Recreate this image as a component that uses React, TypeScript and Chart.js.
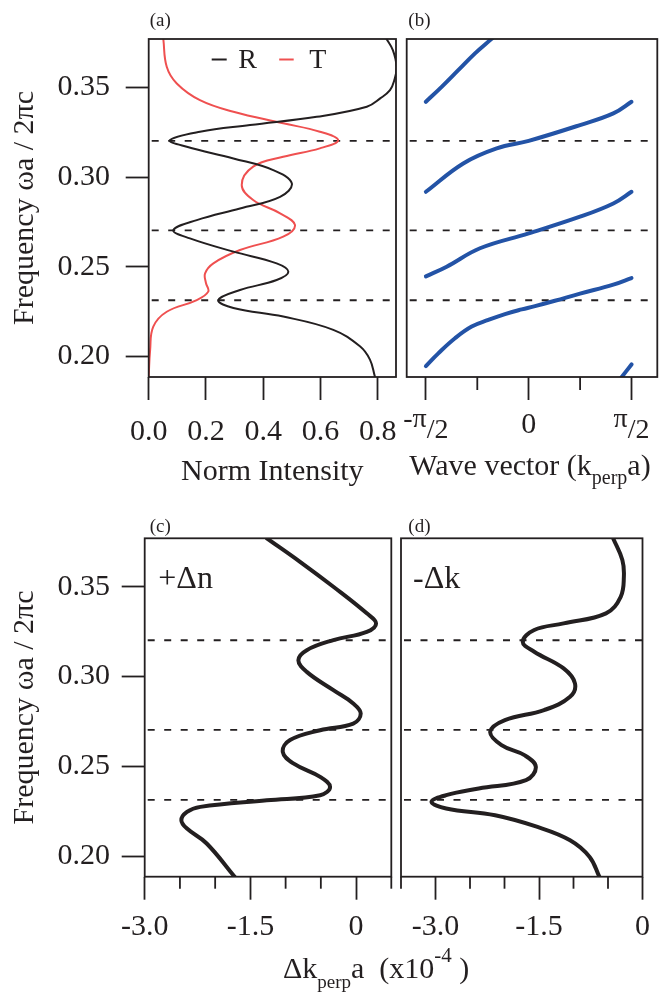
import React, { useEffect, useRef } from "react";
import { Chart, registerables } from "chart.js";

Chart.register(...registerables);

const FONT = "'Liberation Serif', 'Times New Roman', Times, serif";
const INK = "#231f20";
const RED = "#ef5050";
const BLUE = "#2353a6";

// shared frequency axis
const FREQ_MIN = 0.1885;
const FREQ_MAX = 0.377;
const freqTicks = [0.2, 0.25, 0.3, 0.35];
const bandEdges = [0.3202, 0.2703, 0.2313];
const freqTitle = "Frequency ωa / 2πc";

// (a) normalized intensity
const INTENSITY_MIN = 0;
const INTENSITY_MAX = 0.864;
const intensityTicks = [0, 0.2, 0.4, 0.6, 0.8];
const rFreq = [0.1889, 0.1982, 0.2056, 0.2148, 0.2222, 0.227, 0.2314, 0.237, 0.2426, 0.2472, 0.2519, 0.2584, 0.2658, 0.2704, 0.276, 0.2825, 0.289, 0.2965, 0.3039, 0.3104, 0.3169, 0.3206, 0.3253, 0.329, 0.3336, 0.3392, 0.344, 0.3485, 0.354, 0.3615, 0.3708, 0.377];
const rVal = [0.79, 0.773, 0.738, 0.645, 0.47, 0.296, 0.243, 0.319, 0.447, 0.488, 0.447, 0.296, 0.144, 0.086, 0.168, 0.319, 0.459, 0.5, 0.435, 0.296, 0.133, 0.074, 0.179, 0.354, 0.587, 0.762, 0.81, 0.843, 0.858, 0.866, 0.853, 0.831];
const tFreq = [0.1889, 0.2036, 0.2166, 0.2249, 0.2314, 0.2361, 0.2409, 0.2463, 0.2519, 0.2593, 0.2668, 0.2733, 0.2798, 0.2872, 0.2956, 0.3058, 0.3113, 0.316, 0.3206, 0.3253, 0.33, 0.3364, 0.3429, 0.3522, 0.3615, 0.377];
const tVal = [0, 0.005, 0.016, 0.063, 0.168, 0.208, 0.2, 0.197, 0.226, 0.319, 0.47, 0.511, 0.459, 0.365, 0.325, 0.365, 0.47, 0.598, 0.662, 0.598, 0.47, 0.296, 0.179, 0.098, 0.063, 0.051];

// (b) band structure
const K_MIN = -1.864;
const K_MAX = 1.965;
const kTicks = [-Math.PI / 2, -Math.PI / 4, 0, Math.PI / 4, Math.PI / 2];
const kTickLabels = ["-π/2", "", "0", "", "π/2"];
const band0K = [1.4, 1.5708];
const band0F = [0.1875, 0.1955];
const band1K = [-1.5708, -1.381, -1.126, -0.871, -0.617, -0.362, -0.107, 0.096, 0.4, 0.784, 1.293, 1.5708];
const band1F = [0.1946, 0.2017, 0.2101, 0.2166, 0.2203, 0.2236, 0.2262, 0.228, 0.231, 0.235, 0.24, 0.2437];
const band2K = [-1.5708, -1.253, -0.744, 0, 0.784, 1.293, 1.5708];
const band2F = [0.2446, 0.25, 0.2603, 0.2686, 0.2779, 0.2853, 0.2918];
const band3K = [-1.5708, -1.0, -0.489, 0, 0.784, 1.293, 1.5708];
const band3F = [0.2918, 0.3076, 0.316, 0.3202, 0.329, 0.3355, 0.342];
const band4K = [-1.5708, -1.33, -1.076, -0.82, -0.576, -0.54];
const band4F = [0.342, 0.3503, 0.3596, 0.369, 0.3768, 0.378];

// (c) +Δn and (d) -Δk
const deltaMajor = [-3, -1.5, 0];
const deltaMajorLabels = ["-3.0", "-1.5", "0"];
const dnTicks = [-3, -2.5, -2, -1.5, -1, -0.5, 0, 0.5];
const dnFreq = [0.1883, 0.207, 0.2153, 0.22, 0.2246, 0.2274, 0.2311, 0.2339, 0.2385, 0.2441, 0.2516, 0.258, 0.2646, 0.2701, 0.2738, 0.2794, 0.285, 0.2924, 0.3026, 0.3091, 0.3147, 0.3203, 0.3249, 0.3296, 0.3352, 0.35, 0.3639, 0.377];
const dnVal = [-1.72, -2.12, -2.4, -2.48, -2.4, -2.21, -1.267, -0.51, -0.369, -0.51, -0.89, -1.04, -0.937, -0.51, -0.04, 0.066, -0.04, -0.322, -0.7, -0.819, -0.7, -0.322, 0.152, 0.284, 0.152, -0.322, -0.795, -1.267];
const dkTicks = [-3.5, -3, -2.5, -2, -1.5, -1, -0.5, 0];
const dkFreq = [0.1884, 0.1995, 0.2088, 0.2162, 0.2227, 0.2265, 0.2302, 0.2339, 0.2376, 0.2423, 0.2497, 0.2562, 0.2618, 0.2692, 0.2757, 0.2813, 0.2887, 0.2962, 0.3045, 0.3138, 0.3193, 0.3259, 0.3296, 0.3352, 0.3444, 0.3556, 0.3649, 0.377];
const dkVal = [-0.624, -0.766, -1.05, -1.522, -2.136, -2.845, -3.058, -2.845, -2.373, -1.688, -1.546, -1.711, -2.043, -2.207, -1.994, -1.427, -1.05, -0.979, -1.143, -1.569, -1.735, -1.569, -1.143, -0.529, -0.316, -0.27, -0.292, -0.426];

// ---------- helpers ----------
const pts = (xs: number[], ys: number[]) => xs.map((x, i) => ({ x, y: ys[i] }));

type Seg = { t: string; size: number; dy?: number };

function drawRich(ctx: CanvasRenderingContext2D, segs: Seg[], x: number, y: number, align: "left" | "center") {
  ctx.save();
  ctx.fillStyle = INK;
  ctx.textAlign = "left";
  ctx.textBaseline = "alphabetic";
  const widths = segs.map((s) => {
    ctx.font = `${s.size}px ${FONT}`;
    return ctx.measureText(s.t).width;
  });
  const total = widths.reduce((a, b) => a + b, 0);
  let cx = align === "center" ? x - total / 2 : x;
  segs.forEach((s, i) => {
    ctx.font = `${s.size}px ${FONT}`;
    ctx.fillText(s.t, cx, y + (s.dy || 0));
    cx += widths[i];
  });
  ctx.restore();
}

function drawFrame(ctx: CanvasRenderingContext2D, a: any) {
  ctx.save();
  ctx.strokeStyle = INK;
  ctx.lineWidth = 1.8;
  ctx.strokeRect(a.left, a.top, a.right - a.left, a.bottom - a.top);
  ctx.restore();
}

const isMajor = (majors: number[], v: number) => majors.some((m) => Math.abs(m - v) < 1e-6);

function drawMinorTicks(chart: any, majors: number[], len: number) {
  const ctx = chart.ctx;
  const a = chart.chartArea;
  const xs = chart.scales.x;
  ctx.save();
  ctx.strokeStyle = INK;
  ctx.lineWidth = 1.8;
  xs.ticks.forEach((t: any) => {
    if (!isMajor(majors, t.value)) {
      const px = xs.getPixelForValue(t.value);
      ctx.beginPath();
      ctx.moveTo(px, a.bottom);
      ctx.lineTo(px, a.bottom + len);
      ctx.stroke();
    }
  });
  ctx.restore();
}

function curve(data: { x: number; y: number }[], color: string, width: number) {
  return {
    data,
    showLine: true,
    borderColor: color,
    borderWidth: width,
    pointRadius: 0,
    tension: 0.4,
    fill: false,
    clip: 0,
    borderCapStyle: "round",
    borderJoinStyle: "round",
  };
}

function dashes(xMin: number, xMax: number) {
  return bandEdges.map((f) => ({
    data: [
      { x: xMin, y: f },
      { x: xMax, y: f },
    ],
    showLine: true,
    borderColor: INK,
    borderWidth: 1.8,
    borderDash: [7, 9.5],
    borderDashOffset: -3,
    pointRadius: 0,
    tension: 0,
    clip: 0,
  }));
}

const tickFont = { family: FONT, size: 30 };

function yScale(show: boolean, width: number, pad: number) {
  const base: any = {
    type: "linear",
    min: FREQ_MIN,
    max: FREQ_MAX,
    display: show,
    afterBuildTicks: (s: any) => {
      s.ticks = freqTicks.map((v) => ({ value: v }));
    },
    grid: { drawOnChartArea: false, drawTicks: true, tickLength: 23, tickWidth: 1.8, tickColor: INK },
    border: { display: false },
    ticks: {
      font: tickFont,
      color: INK,
      padding: pad,
      autoSkip: false,
      callback: (v: any) => Number(v).toFixed(2),
    },
    title: {
      display: show,
      text: freqTitle,
      font: tickFont,
      color: INK,
      padding: { top: 7, bottom: 0 },
    },
  };
  if (show) base.afterFit = (s: any) => { s.width = width; };
  return base;
}

function xScale(opts: {
  min: number;
  max: number;
  ticks: number[];
  majors: number[];
  labels: (v: number) => string;
  height: number;
  pad: number;
  showLabels: boolean;
  title?: string;
}) {
  return {
    type: "linear",
    min: opts.min,
    max: opts.max,
    afterBuildTicks: (s: any) => {
      s.ticks = opts.ticks.map((v) => ({ value: v }));
    },
    afterFit: (s: any) => {
      s.height = opts.height;
    },
    grid: {
      drawOnChartArea: false,
      drawTicks: true,
      tickLength: 23,
      tickWidth: 1.8,
      tickColor: (c: any) => (c.tick && isMajor(opts.majors, c.tick.value) ? INK : "rgba(0,0,0,0)"),
    },
    border: { display: false },
    ticks: {
      display: opts.showLabels,
      font: tickFont,
      color: INK,
      padding: opts.pad,
      autoSkip: false,
      maxRotation: 0,
      minRotation: 0,
      callback: (v: any) => opts.labels(Number(v)),
    },
    title: {
      display: !!opts.title,
      text: opts.title || "",
      font: tickFont,
      color: INK,
      padding: { top: 0, bottom: 0 },
    },
  };
}

const baseOptions = (padding: any) => ({
  responsive: false,
  animation: false,
  devicePixelRatio: 1,
  events: [],
  layout: { padding },
  plugins: { legend: { display: false }, tooltip: { enabled: false } },
});

// ---------- chart configs ----------
function configA(): any {
  return {
    type: "scatter",
    data: {
      datasets: [
        curve(pts(rVal, rFreq), INK, 2),
        curve(pts(tVal, tFreq), RED, 2),
        ...dashes(INTENSITY_MIN, INTENSITY_MAX),
      ],
    },
    options: {
      ...baseOptions({ left: 0, top: 39, right: 263, bottom: 507 }),
      scales: {
        x: xScale({
          min: INTENSITY_MIN,
          max: INTENSITY_MAX,
          ticks: intensityTicks,
          majors: intensityTicks,
          labels: (v) => v.toFixed(1),
          height: 113,
          pad: 14,
          showLabels: true,
          title: "Norm Intensity",
        }),
        y: yScale(true, 148.7, 15.7),
      },
    },
    plugins: [
      {
        id: "decorA",
        afterDraw(chart: any) {
          const ctx = chart.ctx;
          const a = chart.chartArea;
          drawFrame(ctx, a);
          drawRich(ctx, [{ t: "(a)", size: 19 }], a.left + 1, a.top - 13, "left");
          ctx.save();
          ctx.lineWidth = 2;
          ctx.strokeStyle = INK;
          ctx.beginPath();
          ctx.moveTo(a.left + 63, a.top + 20.5);
          ctx.lineTo(a.left + 78, a.top + 20.5);
          ctx.stroke();
          ctx.strokeStyle = RED;
          ctx.beginPath();
          ctx.moveTo(a.left + 130.5, a.top + 20.5);
          ctx.lineTo(a.left + 145, a.top + 20.5);
          ctx.stroke();
          ctx.restore();
          drawRich(ctx, [{ t: "R", size: 28 }], a.left + 89.6, a.top + 29.3, "left");
          drawRich(ctx, [{ t: "T", size: 28 }], a.left + 160.6, a.top + 29.3, "left");
        },
      },
    ],
  };
}

function configB(): any {
  const kMajors = kTicks.filter((_, i) => kTickLabels[i] !== "");
  return {
    type: "scatter",
    data: {
      datasets: [
        curve(pts(band0K, band0F), BLUE, 4),
        curve(pts(band1K, band1F), BLUE, 4),
        curve(pts(band2K, band2F), BLUE, 4),
        curve(pts(band3K, band3F), BLUE, 4),
        curve(pts(band4K, band4F), BLUE, 4),
        ...dashes(K_MIN, K_MAX),
      ],
    },
    options: {
      ...baseOptions({ left: 406.7, top: 39, right: 1.7, bottom: 507 }),
      scales: {
        x: xScale({
          min: K_MIN,
          max: K_MAX,
          ticks: kTicks,
          majors: kMajors,
          labels: () => "",
          height: 113,
          pad: 14,
          showLabels: false,
        }),
        y: yScale(false, 0, 0),
      },
    },
    plugins: [
      {
        id: "decorB",
        afterDraw(chart: any) {
          const ctx = chart.ctx;
          const a = chart.chartArea;
          const xs = chart.scales.x;
          drawFrame(ctx, a);
          drawMinorTicks(chart, kMajors, 13);
          drawRich(ctx, [{ t: "(b)", size: 19 }], a.left + 1.6, a.top - 13, "left");
          kTicks.forEach((v, i) => {
            const lab = kTickLabels[i];
            if (!lab) return;
            const px = xs.getPixelForValue(v);
            const slash = lab.indexOf("/");
            if (slash >= 0) {
              drawRich(
                ctx,
                [
                  { t: lab.slice(0, slash), size: 28 },
                  { t: lab.slice(slash), size: 28, dy: 11 },
                ],
                px,
                a.bottom + 50,
                "center"
              );
            } else {
              drawRich(ctx, [{ t: lab, size: 30 }], px, a.bottom + 56, "center");
            }
          });
          drawRich(
            ctx,
            [
              { t: "Wave vector (k", size: 30 },
              { t: "perp", size: 20, dy: 9 },
              { t: "a)", size: 30 },
            ],
            (a.left + a.right) / 2 - 2,
            a.bottom + 98,
            "center"
          );
        },
      },
    ],
  };
}

function configC(): any {
  return {
    type: "scatter",
    data: {
      datasets: [curve(pts(dnVal, dnFreq), INK, 4), ...dashes(dnTicks[0], dnTicks[dnTicks.length - 1])],
    },
    options: {
      ...baseOptions({ left: 0, top: 538.3, right: 267.7, bottom: 40.3 }),
      scales: {
        x: xScale({
          min: dnTicks[0],
          max: dnTicks[dnTicks.length - 1],
          ticks: dnTicks,
          majors: deltaMajor,
          labels: (v) => {
            const i = deltaMajor.findIndex((m) => Math.abs(m - v) < 1e-6);
            return i >= 0 ? deltaMajorLabels[i] : "";
          },
          height: 80,
          pad: 9,
          showLabels: true,
        }),
        y: yScale(true, 144.7, 11.7),
      },
    },
    plugins: [
      {
        id: "decorC",
        afterDraw(chart: any) {
          const ctx = chart.ctx;
          const a = chart.chartArea;
          drawFrame(ctx, a);
          drawMinorTicks(chart, deltaMajor, 12);
          drawRich(ctx, [{ t: "(c)", size: 19 }], a.left + 5, a.top - 6.8, "left");
          drawRich(ctx, [{ t: "+Δn", size: 32 }], a.left + 13.6, a.top + 49.7, "left");
          drawRich(
            ctx,
            [
              { t: "Δk", size: 30 },
              { t: "perp", size: 19, dy: 10 },
              { t: "a  (x10", size: 30 },
              { t: "-4", size: 21, dy: -16.5 },
              { t: " )", size: 30 },
            ],
            a.left + 138.3,
            a.bottom + 101.3,
            "left"
          );
        },
      },
    ],
  };
}

function configD(): any {
  return {
    type: "scatter",
    data: {
      datasets: [curve(pts(dkVal, dkFreq), INK, 4), ...dashes(dkTicks[0], dkTicks[dkTicks.length - 1])],
    },
    options: {
      ...baseOptions({ left: 401, top: 538.3, right: 11.7, bottom: 40.3 }),
      scales: {
        x: xScale({
          min: dkTicks[0],
          max: dkTicks[dkTicks.length - 1],
          ticks: dkTicks,
          majors: deltaMajor,
          labels: (v) => {
            const i = deltaMajor.findIndex((m) => Math.abs(m - v) < 1e-6);
            return i >= 0 ? deltaMajorLabels[i] : "";
          },
          height: 80,
          pad: 9,
          showLabels: true,
        }),
        y: yScale(false, 0, 0),
      },
    },
    plugins: [
      {
        id: "decorD",
        afterDraw(chart: any) {
          const ctx = chart.ctx;
          const a = chart.chartArea;
          drawFrame(ctx, a);
          drawMinorTicks(chart, deltaMajor, 12);
          drawRich(ctx, [{ t: "(d)", size: 19 }], a.left + 7.3, a.top - 6.8, "left");
          drawRich(ctx, [{ t: "-Δk", size: 32 }], a.left + 12, a.top + 49.7, "left");
        },
      },
    ],
  };
}

function Panel({ make }: { make: () => any }) {
  const ref = useRef<HTMLCanvasElement>(null);
  useEffect(() => {
    const chart = new Chart(ref.current as HTMLCanvasElement, make());
    return () => chart.destroy();
  }, [make]);
  return (
    <canvas
      ref={ref}
      width={659}
      height={997}
      style={{ position: "absolute", left: 0, top: 0, width: 659, height: 997 }}
    />
  );
}

export default function App() {
  return (
    <div style={{ position: "absolute", left: 0, top: 0, width: 659, height: 997, background: "#ffffff" }}>
      <Panel make={configA} />
      <Panel make={configB} />
      <Panel make={configC} />
      <Panel make={configD} />
    </div>
  );
}
